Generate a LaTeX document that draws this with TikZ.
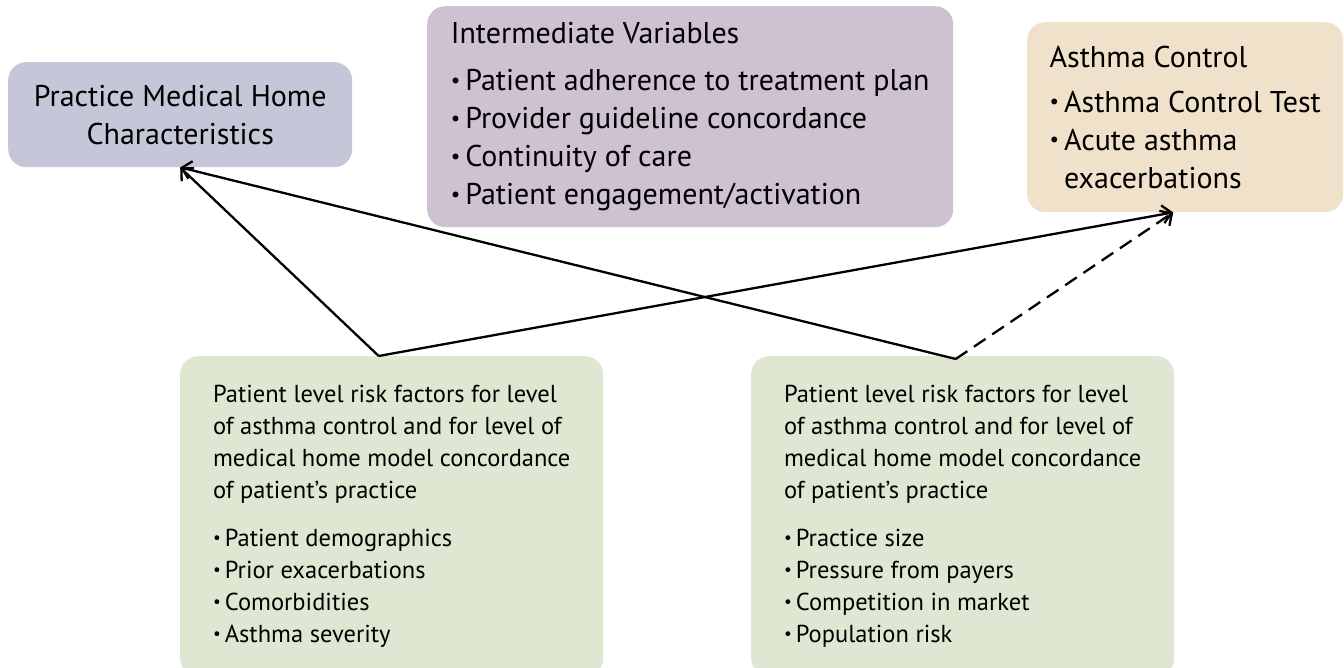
\documentclass[tikz,border=0pt]{standalone}
\usepackage{fontspec}
\setmainfont{PT Sans}
\usetikzlibrary{arrows.meta, calc, positioning}
\definecolor{pmhblue}{RGB}{197,199,216}
\definecolor{midlilac}{RGB}{206,193,209}
\definecolor{acsand}{RGB}{240,225,203}
\definecolor{riskgreen}{RGB}{223,231,211}
\newcommand{\dotmark}{\raisebox{0.12em}{\scalebox{0.7}{•}}\,}
\tikzset{
  every node/.style={align=left}
}

\begin{document}
\begin{tikzpicture}[x=1pt, y=-1pt]
\tikzstyle{box}=[rectangle, rounded corners=18pt, inner sep=0pt, anchor=north west]
\tikzstyle{big}=[font=\fontsize{30}{38}\selectfont]
\tikzstyle{small}=[font=\fontsize{24.5}{32}\selectfont]
\tikzstyle{link}=[draw, line width=2.3pt, -{Straight Barb[length=9pt, width=18pt, line width=2.3pt]}]
\tikzstyle{maybe}=[link, dash pattern=on 14pt off 8pt]

\useasboundingbox (0,0) rectangle (1344,668);

% outcome and exposure boxes along the top
\node[box, big, fill=pmhblue, minimum width=344pt, minimum height=105pt,
  align=center] (pmh) at (8,62)
  {Practice Medical Home\\Characteristics};
\node[box, big, fill=midlilac, minimum width=526pt, minimum height=221pt]
  (mid) at (427,6)
  {Intermediate Variables\\[9pt]
   \dotmark Patient adherence to treatment plan\\
   \dotmark Provider guideline concordance\\
   \dotmark Continuity of care\\
   \dotmark Patient engagement/activation};
\node[box, big, fill=acsand, minimum width=316pt, minimum height=190pt]
  (ac) at (1027,22)
  {Asthma Control\\[7pt]
   \dotmark Asthma Control Test\\
   \dotmark Acute asthma\\
   \phantom{\dotmark}exacerbations};

% risk factor boxes, cut off by the lower edge
\node[box, small, fill=riskgreen, minimum width=423pt, minimum height=320pt]
  (lrisk) at (180,356)
  {Patient level risk factors for level\\
   of asthma control and for level of\\
   medical home model concordance\\
   of patient’s practice\\[16pt]
   \dotmark Patient demographics\\
   \dotmark Prior exacerbations\\
   \dotmark Comorbidities\\
   \dotmark Asthma severity};
\node[box, small, fill=riskgreen, minimum width=423pt, minimum height=320pt]
  (rrisk) at (751,356)
  {Patient level risk factors for level\\
   of asthma control and for level of\\
   medical home model concordance\\
   of patient’s practice\\[16pt]
   \dotmark Practice size\\
   \dotmark Pressure from payers\\
   \dotmark Competition in market\\
   \dotmark Population risk};

% where the arrows leave and meet
\coordinate (lout) at ($(lrisk.north)+(-13,0)$);
\coordinate (rout) at ($(rrisk.north)+(-7,3)$);
\coordinate (acin) at ($(ac.south)+(-12,0)$);

\draw[link] (lout) to (pmh.south);
\draw[link] (lout) to (acin);
\draw[link] (rout) to (pmh.south);
\draw[maybe] (rout) to (acin);

\end{tikzpicture}
\end{document}
